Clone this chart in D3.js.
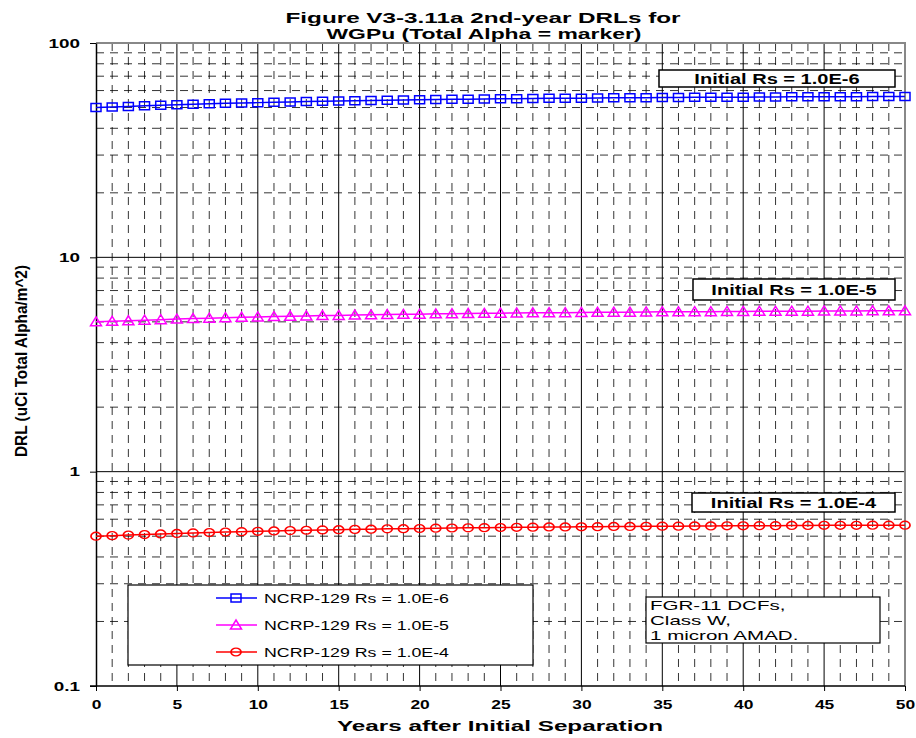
<!DOCTYPE html>
<html>
<head>
<meta charset="utf-8">
<script src="https://cdn.jsdelivr.net/npm/d3@7/dist/d3.min.js"></script>
<style>
  body { margin: 0; background: #fff; }
  text { font-family: "Liberation Sans", Arial, sans-serif; }
</style>
</head>
<body>
<svg id="chart" width="916" height="738"></svg>
<script>
// years after initial separation
var years = d3.range(0, 51);

// DRL values (uCi total alpha / m^2)
var drlRs6 = [50.0, 50.3, 50.6, 50.9, 51.2, 51.5, 51.8, 52.0, 52.3, 52.5,
  52.7, 52.9, 53.1, 53.3, 53.5, 53.6, 53.8, 53.9, 54.1, 54.2,
  54.3, 54.5, 54.6, 54.7, 54.8, 54.9, 55.0, 55.1, 55.2, 55.2,
  55.3, 55.4, 55.5, 55.5, 55.6, 55.7, 55.7, 55.8, 55.8, 55.9,
  55.9, 56.0, 56.0, 56.1, 56.1, 56.2, 56.2, 56.2, 56.3, 56.3, 56.3];
var drlRs5 = [5.00, 5.03, 5.06, 5.09, 5.12, 5.15, 5.18, 5.20, 5.23, 5.25,
  5.27, 5.29, 5.31, 5.33, 5.35, 5.36, 5.38, 5.39, 5.41, 5.42,
  5.43, 5.45, 5.46, 5.47, 5.48, 5.49, 5.50, 5.51, 5.52, 5.52,
  5.53, 5.54, 5.55, 5.55, 5.56, 5.57, 5.57, 5.58, 5.58, 5.59,
  5.59, 5.60, 5.60, 5.61, 5.61, 5.62, 5.62, 5.62, 5.63, 5.63, 5.63];
var drlRs4 = [0.500, 0.503, 0.506, 0.509, 0.512, 0.515, 0.518, 0.520, 0.523, 0.525,
  0.527, 0.529, 0.531, 0.533, 0.535, 0.536, 0.538, 0.539, 0.541, 0.542,
  0.543, 0.545, 0.546, 0.547, 0.548, 0.549, 0.550, 0.551, 0.552, 0.552,
  0.553, 0.554, 0.555, 0.555, 0.556, 0.557, 0.557, 0.558, 0.558, 0.559,
  0.559, 0.560, 0.560, 0.561, 0.561, 0.562, 0.562, 0.562, 0.563, 0.563, 0.563];

var seriesNames = ["NCRP-129 Rs = 1.0E-6", "NCRP-129 Rs = 1.0E-5", "NCRP-129 Rs = 1.0E-4"];
var seriesColors = ["#0000ff", "#ff00ff", "#ff0000"];
var seriesMarkers = ["square", "triangle", "circle"];
var annotations = ["Initial Rs = 1.0E-6", "Initial Rs = 1.0E-5", "Initial Rs = 1.0E-4"];
var xTicks = [0, 5, 10, 15, 20, 25, 30, 35, 40, 45, 50];
var yTicks = [0.1, 1, 10, 100];
var noteLines = ["FGR-11 DCFs,", "Class W,", "1 micron AMAD."];

var series = [drlRs6, drlRs5, drlRs4].map(function(vals, i) {
  return {
    name: seriesNames[i], color: seriesColors[i], marker: seriesMarkers[i],
    points: years.map(function(yr, j) { return { x: yr, y: vals[j] }; })
  };
});

var svg = d3.select("#chart");
var pLeft = 96, pRight = 905, pTop = 43, pBottom = 686;
var STRETCH = 1.45; // the original text is drawn wide

var x = d3.scaleLinear().domain([0, 50]).range([pLeft, pRight]);
var y = d3.scaleLog().domain([0.1, 100]).range([pBottom, pTop]);

// widen text horizontally, like the source picture
function stretch(sel, k) {
  sel.each(function() {
    var len = this.getComputedTextLength();
    d3.select(this).attr("textLength", len * (k || STRETCH)).attr("lengthAdjust", "spacingAndGlyphs");
  });
}

svg.append("rect").attr("width", 916).attr("height", 738).attr("fill", "#fff");

// grid
var grid = svg.append("g").attr("class", "grid");
var minorX = years.filter(function(d) { return d % 5 != 0; });
grid.selectAll("line.vminor").data(minorX).enter().append("line")
  .attr("x1", function(d) { return x(d); }).attr("x2", function(d) { return x(d); })
  .attr("y1", pTop).attr("y2", pBottom)
  .attr("stroke", "#000").attr("stroke-width", 0.8).attr("stroke-dasharray", "8,6");

var minorY = [];
[0.1, 1, 10].forEach(function(dec) {
  d3.range(2, 10).forEach(function(m) { minorY.push(dec * m); });
});
grid.selectAll("line.hminor").data(minorY).enter().append("line")
  .attr("x1", pLeft).attr("x2", pRight)
  .attr("y1", function(d) { return y(d); }).attr("y2", function(d) { return y(d); })
  .attr("stroke", "#000").attr("stroke-width", 0.8).attr("stroke-dasharray", "8,6");

grid.selectAll("line.vmajor").data(xTicks.slice(1, -1)).enter().append("line")
  .attr("x1", function(d) { return x(d); }).attr("x2", function(d) { return x(d); })
  .attr("y1", pTop).attr("y2", pBottom)
  .attr("stroke", "#000").attr("stroke-width", 1);

grid.selectAll("line.hmajor").data([1, 10]).enter().append("line")
  .attr("x1", pLeft).attr("x2", pRight)
  .attr("y1", function(d) { return y(d); }).attr("y2", function(d) { return y(d); })
  .attr("stroke", "#000").attr("stroke-width", 1);

// frame: top and right in gray
svg.append("path")
  .attr("d", "M" + pLeft + "," + pTop + "H" + pRight + "V" + pBottom)
  .attr("fill", "none").attr("stroke", "#888").attr("stroke-width", 2);

// axes
var xAxis = svg.append("g").attr("transform", "translate(0," + pBottom + ")")
  .call(d3.axisBottom(x).tickValues(xTicks).tickSize(5).tickPadding(9).tickSizeOuter(0));
xAxis.select(".domain").attr("d", "M" + (pLeft - 6) + ",0H" + pRight).attr("stroke-width", 1.5);
xAxis.selectAll("text").attr("font-size", 12).attr("font-weight", "bold").attr("fill", "#000")
  .call(stretch);

var yAxis = svg.append("g").attr("transform", "translate(" + pLeft + ",0)")
  .call(d3.axisLeft(y).tickValues(yTicks).tickFormat(function(d) { return String(d); })
    .tickSize(6).tickPadding(10).tickSizeOuter(0));
yAxis.select(".domain").attr("stroke-width", 1.5);
yAxis.selectAll("text").attr("font-size", 13).attr("font-weight", "bold").attr("fill", "#000")
  .call(stretch);

// markers
function markerPath(type) {
  if (type == "square") return "M-5,-4H5V4H-5Z";
  if (type == "triangle") return "M0,-5L5.5,4H-5.5Z";
  return d3.symbol().type(d3.symbolCircle).size(60)();
}

var line = d3.line().x(function(d) { return x(d.x); }).y(function(d) { return y(d.y); });

series.forEach(function(s) {
  var g = svg.append("g");
  g.append("path").datum(s.points).attr("d", line)
    .attr("fill", "none").attr("stroke", s.color).attr("stroke-width", 1.5);
  g.selectAll("path.mk").data(s.points).enter().append("path")
    .attr("class", "mk")
    .attr("transform", function(d) {
      return "translate(" + x(d.x) + "," + y(d.y) + ")" + (s.marker == "circle" ? " scale(1.15,0.9)" : "");
    })
    .attr("d", markerPath(s.marker))
    .attr("fill", "none").attr("stroke", s.color).attr("stroke-width", 1.5);
});

// annotation boxes
var annBoxes = [[659, 70, 236, 17], [693, 279, 202, 21], [692, 493, 203, 19]];
annotations.forEach(function(txt, i) {
  var b = annBoxes[i];
  svg.append("rect").attr("x", b[0]).attr("y", b[1]).attr("width", b[2]).attr("height", b[3])
    .attr("fill", "#fff").attr("stroke", "#000").attr("stroke-width", 1.5);
  svg.append("text").attr("x", b[0] + b[2] / 2).attr("y", b[1] + b[3] / 2 + 5)
    .attr("text-anchor", "middle").attr("font-size", 14).attr("font-weight", "bold")
    .text(txt).call(stretch, 1.43);
});

// legend
var legend = svg.append("g");
legend.append("rect").attr("x", 128).attr("y", 585).attr("width", 405).attr("height", 80)
  .attr("fill", "#fff").attr("stroke", "#000").attr("stroke-width", 1.2);
series.forEach(function(s, i) {
  var ly = 598 + i * 27;
  legend.append("line").attr("x1", 216).attr("x2", 257).attr("y1", ly).attr("y2", ly)
    .attr("stroke", s.color).attr("stroke-width", 1.5);
  legend.append("path").attr("transform", "translate(236," + ly + ")" + (s.marker == "circle" ? " scale(1.15,0.9)" : ""))
    .attr("d", markerPath(s.marker)).attr("fill", "none")
    .attr("stroke", s.color).attr("stroke-width", 1.5);
  legend.append("text").attr("x", 264).attr("y", ly + 4.5).attr("font-size", 12.5).text(s.name)
    .call(stretch, 1.42);
});

// note box
svg.append("rect").attr("x", 646).attr("y", 597).attr("width", 234).attr("height", 46)
  .attr("fill", "#fff").attr("stroke", "#000").attr("stroke-width", 1.2);
noteLines.forEach(function(t, i) {
  svg.append("text").attr("x", 650).attr("y", 609.5 + i * 15).attr("font-size", 13).text(t)
    .call(stretch, 1.58);
});

// titles
svg.append("text").attr("x", 483).attr("y", 23).attr("text-anchor", "middle")
  .attr("font-size", 15.5).attr("font-weight", "bold")
  .attr("textLength", 395).attr("lengthAdjust", "spacingAndGlyphs")
  .text("Figure V3-3.11a 2nd-year DRLs for");
svg.append("text").attr("x", 484).attr("y", 39).attr("text-anchor", "middle")
  .attr("font-size", 15.5).attr("font-weight", "bold")
  .attr("textLength", 315).attr("lengthAdjust", "spacingAndGlyphs")
  .text("WGPu (Total Alpha = marker)");

svg.append("text").attr("x", 500).attr("y", 731).attr("text-anchor", "middle")
  .attr("font-size", 15.5).attr("font-weight", "bold")
  .attr("textLength", 326).attr("lengthAdjust", "spacingAndGlyphs")
  .text("Years after Initial Separation");

svg.append("text").attr("transform", "translate(27,361) rotate(-90)")
  .attr("text-anchor", "middle").attr("font-size", 16).attr("font-weight", "bold")
  .attr("textLength", 192).attr("lengthAdjust", "spacingAndGlyphs")
  .text("DRL (uCi Total Alpha/m^2)");
</script>
</body>
</html>
